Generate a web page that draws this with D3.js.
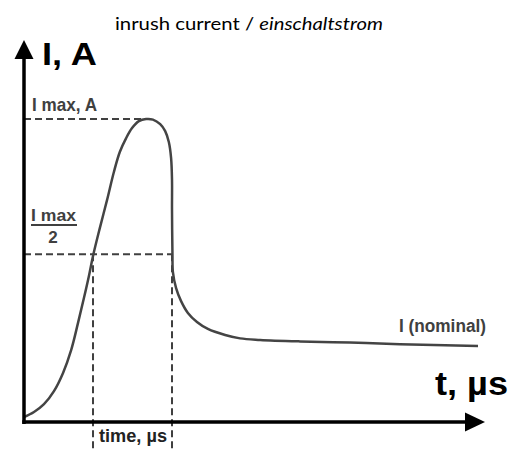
<!DOCTYPE html>
<html>
<head>
<meta charset="utf-8">
<script src="https://cdn.jsdelivr.net/npm/d3@7"></script>
<style>
  html, body { margin: 0; padding: 0; background: #fff; }
  svg { display: block; }
</style>
</head>
<body>
<svg id="chart" width="510" height="450"></svg>
<script>
// ---- data (schematic units: t in % of axis length, I in % of I max) ----
const timeValues = [0, 2.2, 4.4, 6.6, 8.6, 10.4, 11.9, 13.2, 14.3, 15.2, 16.7, 18.3, 19.8, 21.1, 22.5, 23.8, 25.3, 26.9, 28.4, 30.0, 31.1, 31.9, 32.4, 32.6, 32.6, 32.7, 32.8, 33.5, 34.6, 36.1, 38.1, 40.5, 44.3, 47.6, 52.0, 60.8, 71.8, 82.8, 100];
const currentValues = [1.6, 3.3, 5.9, 10.2, 16.2, 23.8, 32.7, 40.9, 48.2, 54.8, 64.0, 73.3, 82.5, 89.1, 93.7, 97.0, 99.3, 100, 99.8, 98.3, 96.0, 92.4, 87.1, 79.9, 70.0, 55.4, 49.5, 44.2, 39.9, 36.0, 33.0, 30.7, 28.7, 27.6, 27.1, 26.6, 26.2, 25.7, 25.1];
const peakTime = 27.3;
const peakCurrent = 100;
const halfCurrent = 55.4;
const halfTimes = [15.2, 32.6];
const titleRegular = "inrush current / ";
const titleItalic = "einschaltstrom";
const yAxisLabel = "I, A";
const xAxisLabel = "t, µs";
const maxLabel = "I max, A";
const halfLabelTop = "I max";
const halfLabelBottom = "2";
const durationLabel = "time, µs";
const nominalLabel = "I (nominal)";

const svg = d3.select("#chart");
const x = d3.scaleLinear().domain([0, 100]).range([24, 478]);
const y = d3.scaleLinear().domain([0, 100]).range([422, 119]);

const grey = "#404040";
const condensed = "'Liberation Sans Narrow', 'Arial Narrow', 'Liberation Sans', Arial, sans-serif";

// title
const title = svg.append("text")
  .attr("x", 115).attr("y", 30)
  .attr("font-family", "Lato, 'Open Sans', sans-serif")
  .attr("font-size", 18).attr("fill", "#000")
  .attr("textLength", 268).attr("lengthAdjust", "spacingAndGlyphs");
title.append("tspan").text(titleRegular);
title.append("tspan").attr("font-style", "italic").text(titleItalic);

// dashed guides
const dash = "7,4";
svg.append("line")
  .attr("x1", x(0)).attr("x2", x(peakTime))
  .attr("y1", y(peakCurrent)).attr("y2", y(peakCurrent))
  .attr("stroke", grey).attr("stroke-width", 2).attr("stroke-dasharray", dash);
svg.append("line")
  .attr("x1", x(0)).attr("x2", x(halfTimes[1]))
  .attr("y1", y(halfCurrent)).attr("y2", y(halfCurrent))
  .attr("stroke", grey).attr("stroke-width", 2).attr("stroke-dasharray", dash);
svg.selectAll("line.vguide").data(halfTimes).enter().append("line")
  .attr("class", "vguide")
  .attr("x1", d => x(d)).attr("x2", d => x(d))
  .attr("y1", y(halfCurrent)).attr("y2", 450)
  .attr("stroke", grey).attr("stroke-width", 2).attr("stroke-dasharray", dash);

// curve
const pts = timeValues.map((t, i) => [t, currentValues[i]]);
const line = d3.line()
  .x(d => x(d[0])).y(d => y(d[1]))
  .curve(d3.curveCatmullRom.alpha(0.5));
svg.append("path")
  .attr("d", line(pts))
  .attr("fill", "none").attr("stroke", "#444").attr("stroke-width", 2.5)
  .attr("stroke-linejoin", "round");

// axes
svg.append("line")
  .attr("x1", x(0)).attr("x2", x(0))
  .attr("y1", 56).attr("y2", 424)
  .attr("stroke", "#000").attr("stroke-width", 3.5);
svg.append("line")
  .attr("x1", x(0) - 1.75).attr("x2", 468)
  .attr("y1", 422).attr("y2", 422)
  .attr("stroke", "#000").attr("stroke-width", 3.5);
svg.append("path")
  .attr("d", `M${x(0)},40 L${x(0) + 9.5},59 L${x(0) - 9.5},59 Z`)
  .attr("fill", "#000");
svg.append("path")
  .attr("d", `M485,422 L465,412.5 L465,431.5 Z`)
  .attr("fill", "#000");

// labels
svg.append("text").attr("x", 42).attr("y", 65)
  .attr("font-family", "'Liberation Sans', Arial, sans-serif").attr("font-weight", "bold")
  .attr("font-size", 31).attr("fill", "#000")
  .attr("textLength", 55).attr("lengthAdjust", "spacingAndGlyphs")
  .text(yAxisLabel);
svg.append("text").attr("x", 435).attr("y", 395)
  .attr("font-family", "'Liberation Sans', Arial, sans-serif").attr("font-weight", "bold")
  .attr("font-size", 34).attr("fill", "#000")
  .attr("textLength", 73).attr("lengthAdjust", "spacingAndGlyphs")
  .text(xAxisLabel);

svg.append("text").attr("x", 32).attr("y", 111)
  .attr("font-family", condensed).attr("font-weight", "bold")
  .attr("font-size", 19).attr("fill", grey)
  .attr("textLength", 65).attr("lengthAdjust", "spacingAndGlyphs")
  .text(maxLabel);
svg.append("text").attr("x", 31).attr("y", 221)
  .attr("font-family", condensed).attr("font-weight", "bold")
  .attr("font-size", 17).attr("fill", grey)
  .attr("textLength", 45).attr("lengthAdjust", "spacingAndGlyphs")
  .text(halfLabelTop);
svg.append("line").attr("x1", 31).attr("x2", 77).attr("y1", 225).attr("y2", 225)
  .attr("stroke", grey).attr("stroke-width", 2);
svg.append("text").attr("x", 53).attr("y", 243).attr("text-anchor", "middle")
  .attr("font-family", condensed).attr("font-weight", "bold")
  .attr("font-size", 17).attr("fill", grey)
  .text(halfLabelBottom);
svg.append("text").attr("x", 99).attr("y", 442)
  .attr("font-family", condensed).attr("font-weight", "bold")
  .attr("font-size", 19).attr("fill", "#222")
  .attr("textLength", 68).attr("lengthAdjust", "spacingAndGlyphs")
  .text(durationLabel);
svg.append("text").attr("x", 399).attr("y", 332)
  .attr("font-family", condensed).attr("font-weight", "bold")
  .attr("font-size", 18).attr("fill", grey)
  .attr("textLength", 87).attr("lengthAdjust", "spacingAndGlyphs")
  .text(nominalLabel);
</script>
</body>
</html>
